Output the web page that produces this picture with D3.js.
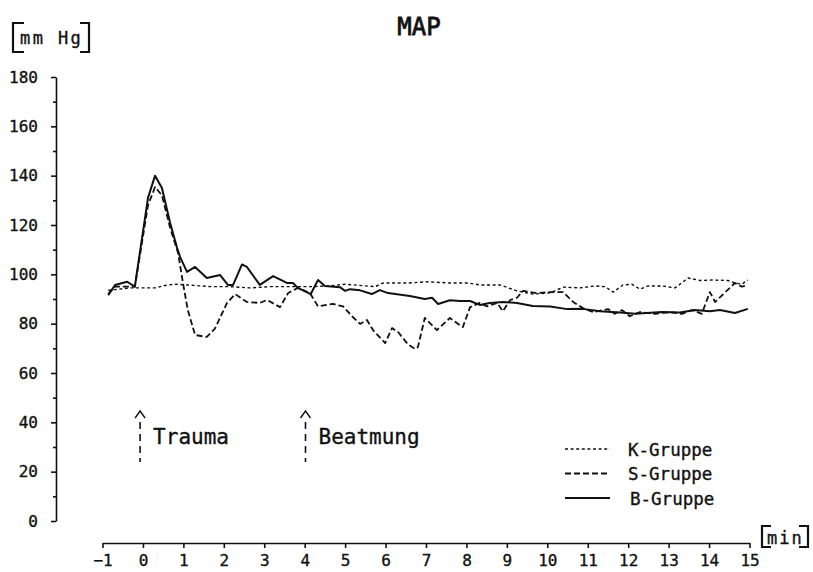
<!DOCTYPE html>
<html>
<head>
<meta charset="utf-8">
<script src="https://cdn.jsdelivr.net/npm/d3@7"></script>
<style>
  html, body { margin: 0; padding: 0; background: #fff; }
  svg { display: block; }
  text { font-family: "DejaVu Sans Mono", monospace; fill: #111; stroke: #111; stroke-width: 0.35px; }
</style>
</head>
<body>
<svg id="chart" width="813" height="572"></svg>
<script>
// Mean arterial pressure (mm Hg) over time (min) for three groups
const kTime = [-0.86, -0.32, 0.30, 0.55, 0.79, 1.29, 1.66, 2.15, 2.65, 3.14, 3.64, 4.13, 4.63, 5.00, 5.74, 5.94, 6.60, 7.02, 7.59, 8.04, 8.33, 8.83, 9.25, 9.64, 10.07, 10.39, 10.81, 11.18, 11.43, 11.63, 11.87, 12.09, 12.29, 12.49, 12.83, 13.16, 13.48, 13.78, 14.07, 14.47, 14.64, 14.81, 14.96];
const kValues = [93.5, 94.5, 94.5, 95.5, 96, 95.5, 95, 95, 94.5, 95, 95, 95, 95.3, 96, 95, 96.5, 96.5, 97, 96.5, 96.5, 95.7, 95.7, 93.3, 92, 92.5, 94.8, 94.5, 95.3, 95, 92.8, 95.7, 96, 94, 95.3, 95.3, 94.5, 98.5, 97.5, 97.7, 97.5, 96.5, 96, 97.7];

const sTime = [-0.86, -0.69, -0.20, 0.125, 0.30, 0.47, 0.67, 0.87, 0.99, 1.11, 1.29, 1.58, 1.78, 2.08, 2.28, 2.57, 2.89, 3.07, 3.39, 3.59, 3.83, 4.13, 4.33, 4.70, 4.95, 5.19, 5.37, 5.54, 5.69, 5.99, 6.16, 6.31, 6.55, 6.73, 6.80, 6.97, 7.27, 7.59, 7.91, 8.09, 8.33, 8.51, 8.76, 8.90, 9.08, 9.25, 9.40, 9.74, 10.07, 10.39, 10.64, 10.88, 11.13, 11.50, 11.67, 11.85, 12.04, 12.29, 12.66, 13.03, 13.33, 13.58, 13.82, 14.02, 14.15, 14.64, 14.81, 14.96];
const sValues = [92, 95, 95, 128, 135.4, 132, 119, 108.6, 96.5, 85.5, 75.4, 74.6, 78, 88.4, 92, 88.8, 88.4, 89.6, 86.7, 92.4, 94.5, 92.4, 87, 88, 87, 82.7, 79.9, 81.5, 77.4, 72.1, 78.2, 76.6, 71.7, 69.7, 70.5, 82.3, 77.4, 82.3, 78.6, 86.7, 88.4, 87, 88.4, 85, 89.6, 90.5, 93.3, 92.4, 92.8, 92.8, 88.8, 86.3, 84.7, 85.9, 84, 85.5, 83, 84.7, 84, 84.7, 84, 85.5, 84, 92.8, 88.8, 96.5, 95, 95.7];

const bTime = [-0.86, -0.69, -0.39, -0.20, 0.125, 0.30, 0.47, 0.67, 0.84, 0.92, 1.09, 1.29, 1.58, 1.91, 2.10, 2.23, 2.45, 2.57, 2.89, 3.22, 3.56, 3.71, 3.83, 4.15, 4.33, 4.50, 4.87, 5.00, 5.12, 5.37, 5.66, 5.86, 6.06, 6.60, 6.97, 7.15, 7.30, 7.59, 7.84, 8.09, 8.33, 8.58, 8.90, 9.25, 9.64, 10.07, 10.49, 10.88, 11.30, 11.80, 12.17, 12.83, 13.28, 13.65, 14.02, 14.27, 14.64, 14.96];
const bValues = [91.5, 95.7, 97, 95, 131, 140, 135, 121, 111, 107, 101, 103, 98.5, 99.7, 95.7, 95.7, 104, 103, 95.7, 99.3, 96.5, 96.5, 94.5, 92, 97.7, 95.3, 94.8, 93.3, 94, 93.5, 92, 93.6, 92.4, 91.2, 90, 90.5, 88, 89.5, 89.2, 89.2, 87.6, 88.4, 88.8, 88.4, 87.2, 87, 85.9, 86, 85, 84.5, 84, 84.7, 84.5, 85.5, 85, 85.5, 84.3, 86];

const yTicks = [0, 20, 40, 60, 80, 100, 120, 140, 160, 180];
const yMinorTicks = [10, 30, 50, 70, 90, 110, 130, 150, 170];
const xTicks = [-1, 0, 1, 2, 3, 4, 5, 6, 7, 8, 9, 10, 11, 12, 13, 14, 15];

const groups = ["K-Gruppe", "S-Gruppe", "B-Gruppe"];
const events = [{ t: -0.07, label: "Trauma" }, { t: 4.02, label: "Beatmung" }];

const svg = d3.select("#chart");
const x = d3.scaleLinear().domain([-1, 15]).range([102.5, 749.5]);
const y = d3.scaleLinear().domain([0, 180]).range([521, 77]);

const styles = {
  "K-Gruppe": { dash: "3,2.6", width: 1.4 },
  "S-Gruppe": { dash: "6,3", width: 1.8 },
  "B-Gruppe": { dash: null, width: 2 }
};

// title
svg.append("text").attr("x", 419).attr("y", 35).attr("text-anchor", "middle")
  .style("font-size", "24px").style("stroke-width", "0.8px").text("MAP");

// unit labels with drawn brackets
function bracket(x0, y0, y1, dir, arm) {
  svg.append("path")
    .attr("d", `M${x0 + dir * arm},${y0} H${x0} V${y1} H${x0 + dir * arm}`)
    .attr("fill", "none").attr("stroke", "#111").attr("stroke-width", 2.2);
}
bracket(13, 23, 52, 1, 11);
bracket(89, 23, 52, -1, 9);
svg.append("text").attr("x", 20).attr("y", 44).style("font-size", "17px")
  .style("letter-spacing", "2.4px").text("mm Hg");

bracket(762, 526, 547, 1, 9);
bracket(808, 526, 547, -1, 9);
svg.append("text").attr("x", 767).attr("y", 544).style("font-size", "17px")
  .style("letter-spacing", "2px").text("min");

// y axis
svg.append("g").attr("transform", "translate(56,0)")
  .call(d3.axisLeft(y).tickValues(yTicks).tickSize(5).tickSizeOuter(0).tickPadding(13).tickFormat(d3.format("d")));
svg.append("g").attr("transform", "translate(56,0)")
  .call(d3.axisLeft(y).tickValues(yMinorTicks).tickSize(3).tickSizeOuter(0).tickFormat(""))
  .select(".domain").remove();

// x axis
svg.append("g").attr("transform", "translate(0,543)")
  .call(d3.axisBottom(x).tickValues(xTicks).tickSize(5).tickSizeOuter(0).tickPadding(7).tickFormat(d3.format("d")));

svg.selectAll(".tick text").style("font-size", "16px").attr("fill", "#111")
  .style("font-family", "'DejaVu Sans Mono', monospace");
svg.selectAll(".domain, .tick line").attr("stroke", "#111").attr("stroke-width", 1.6);

// series lines
const line = d3.line().x(d => x(d[0])).y(d => y(d[1]));
const seriesData = {
  "K-Gruppe": d3.zip(kTime, kValues),
  "S-Gruppe": d3.zip(sTime, sValues),
  "B-Gruppe": d3.zip(bTime, bValues)
};
groups.forEach(g => {
  svg.append("path").datum(seriesData[g])
    .attr("d", line)
    .attr("fill", "none")
    .attr("stroke", "#111")
    .attr("stroke-width", styles[g].width)
    .attr("stroke-linejoin", "round")
    .attr("stroke-dasharray", styles[g].dash);
});

// event markers
events.forEach(e => {
  const ex = x(e.t);
  svg.append("path").attr("d", `M${ex - 5},${418} L${ex},${411} L${ex + 5},${418}`)
    .attr("fill", "none").attr("stroke", "#111").attr("stroke-width", 1.4);
  svg.append("line").attr("x1", ex).attr("x2", ex).attr("y1", 422).attr("y2", 462)
    .attr("stroke", "#111").attr("stroke-width", 1.6).attr("stroke-dasharray", "7,5");
  svg.append("text").attr("x", ex + 13).attr("y", 444).style("font-size", "21px").text(e.label);
});

// legend
const legend = svg.append("g");
groups.forEach((g, i) => {
  const ly = 449 + i * 24.5;
  legend.append("line").attr("x1", 565).attr("x2", 610).attr("y1", ly).attr("y2", ly)
    .attr("stroke", "#111").attr("stroke-width", styles[g].width)
    .attr("stroke-dasharray", styles[g].dash);
  legend.append("text").attr("x", i === 2 ? 630 : 628).attr("y", ly + 6.5)
    .style("font-size", "17.5px").text(g);
});
</script>
</body>
</html>
